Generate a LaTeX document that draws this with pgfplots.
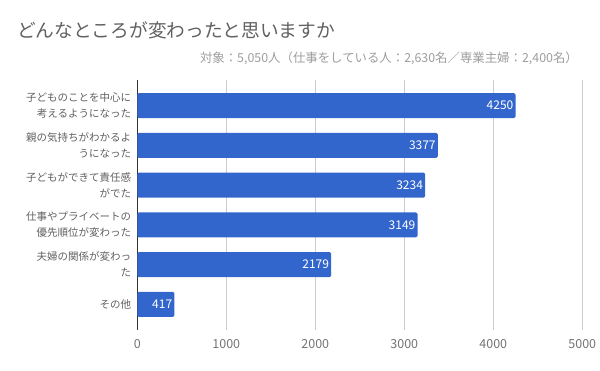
\documentclass[border=0pt]{standalone}
\usepackage{pgfplots}
\pgfplotsset{compat=1.18}
\usepackage{fontspec}
\setmainfont{Noto Sans CJK JP}
\definecolor{barblue}{HTML}{3366CC}
\definecolor{titlegray}{HTML}{616161}
\definecolor{subgray}{HTML}{9E9E9E}
\definecolor{labgray}{HTML}{616161}
\definecolor{tickgray}{HTML}{757575}
\definecolor{gridgray}{HTML}{CCCCCC}
\definecolor{zerogray}{HTML}{333333}
\begin{document}
\begin{tikzpicture}[x=1pt,y=1pt]
\fill[white] (0,0) rectangle (600,371);
\useasboundingbox (0,0) rectangle (600,371);
\node[anchor=west, inner sep=0pt, text=titlegray, font=\fontsize{18.7}{20}\selectfont] at (17,341) {どんなところが変わったと思いますか};
\node[anchor=east, inner sep=0pt, text=subgray, font=\fontsize{12.4}{14}\selectfont] at (578,313) {対象：5,050人（仕事をしている人：2,630名／専業主婦：2,400名）};
\begin{axis}[
  at={(137.3pt,41pt)}, anchor=south west,
  scale only axis, width=445pt, height=250pt,
  xbar, bar width=25pt,
  xmin=0, xmax=5000,
  ymin=-0.645, ymax=5.645, y dir=reverse,
  ytick={0,1,2,3,4,5},
  yticklabels={{子どものことを中心に\\考えるようになった},{親の気持ちがわかるよ\\うになった},{子どもができて責任感\\がでた},{仕事やプライベートの\\優先順位が変わった},{夫婦の関係が変わっ\\た},{その他}},
  yticklabel style={align=right, inner sep=0pt, xshift=-6pt, text=labgray, font=\fontsize{10.5}{16}\selectfont},
  xtick={0,1000,2000,3000,4000,5000},
  xticklabel style={text=tickgray, font=\fontsize{12.5}{14}\selectfont, yshift=-6pt},
  /pgf/number format/assume math mode=true,
  /pgf/number format/1000 sep={},
  major tick length=0pt,
  axis line style={draw=none},
  xmajorgrids, grid style={gridgray, line width=0.8pt},
  extra x ticks={0}, extra x tick labels={},
  extra x tick style={grid style={zerogray, line width=1pt}},
  nodes near coords, point meta=x,
  every node near coord/.append style={anchor=east, text=white, font=\fontsize{12}{14}\selectfont, inner sep=1pt, xshift=-1pt},
  clip=false,
]
\addplot[fill=barblue, draw=none, rounded corners=1.5pt] coordinates {
(4250,0) (3377,1) (3234,2) (3149,3) (2179,4) (417,5)
};
\end{axis}
\end{tikzpicture}
\end{document}
